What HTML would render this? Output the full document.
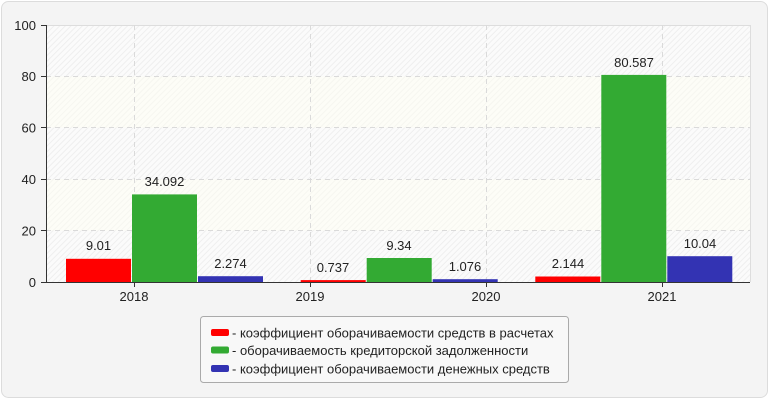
<!DOCTYPE html>
<html><head><meta charset="utf-8"><style>
html,body{margin:0;padding:0;background:#fff;}
svg{display:block;font-family:"Liberation Sans",Arial,sans-serif;}
</style></head><body>
<svg width="770" height="400" viewBox="0 0 770 400" xmlns="http://www.w3.org/2000/svg">
<defs>
<pattern id="hw" patternUnits="userSpaceOnUse" width="4" height="4" patternTransform="rotate(45)">
<rect width="4" height="4" fill="#fbfbfb"/>
<rect width="1" height="4" fill="#efefef"/>
</pattern>
<pattern id="hy" patternUnits="userSpaceOnUse" width="4" height="4" patternTransform="rotate(45)">
<rect width="4" height="4" fill="#fdfdf7"/>
<rect width="1" height="4" fill="#f6f6f0"/>
</pattern>
</defs>
<rect x="1.5" y="1.5" width="766" height="396" rx="7" fill="#f4f4f4" stroke="#dcdcdc"/>
<rect x="46" y="25" width="704" height="51.4" fill="url(#hw)"/>
<rect x="46" y="76.4" width="704" height="51.4" fill="url(#hy)"/>
<rect x="46" y="127.8" width="704" height="51.4" fill="url(#hw)"/>
<rect x="46" y="179.2" width="704" height="51.4" fill="url(#hy)"/>
<rect x="46" y="230.6" width="704" height="51.4" fill="url(#hw)"/>
<path d="M46 25.5H750.5V282" fill="none" stroke="#dddddd"/>
<g stroke="#dadada" stroke-dasharray="5,4" fill="none">
<path d="M46 76.5H750M46 127.5H750M46 179.5H750M46 230.5H750"/>
<path d="M134.5 25V282M310.5 25V282M486.5 25V282M662.5 25V282"/>
</g>
<g>
<rect x="66" y="258.8" width="65" height="23.2" fill="#ff0000"/>
<rect x="132" y="194.4" width="65" height="87.6" fill="#33aa33"/>
<rect x="198" y="276.2" width="65" height="5.8" fill="#3333b3"/>
<rect x="300.7" y="280.1" width="65" height="1.9" fill="#ff0000"/>
<rect x="366.7" y="258" width="65" height="24" fill="#33aa33"/>
<rect x="432.7" y="279.2" width="65" height="2.8" fill="#3333b3"/>
<rect x="535.3" y="276.5" width="65" height="5.5" fill="#ff0000"/>
<rect x="601.3" y="74.9" width="65" height="207.1" fill="#33aa33"/>
<rect x="667.3" y="256.2" width="65" height="25.8" fill="#3333b3"/>
</g>
<g font-size="13" fill="#222" text-anchor="middle">
<text x="98.5" y="250">9.01</text>
<text x="164.5" y="186">34.092</text>
<text x="230.5" y="268">2.274</text>
<text x="333" y="272">0.737</text>
<text x="399" y="250">9.34</text>
<text x="465" y="271">1.076</text>
<text x="568" y="268">2.144</text>
<text x="634" y="67">80.587</text>
<text x="700" y="248">10.04</text>
</g>
<path d="M46.5 25V282.5H750" fill="none" stroke="#333"/>
<g stroke="#333">
<path d="M41 25.5H46M41 76.5H46M41 127.5H46M41 179.5H46M41 230.5H46M41 282.5H46"/>
<path d="M134.5 282V287M310.5 282V287M486.5 282V287M662.5 282V287"/>
</g>
<g font-size="13" fill="#222" text-anchor="end">
<text x="36" y="30">100</text>
<text x="36" y="81">80</text>
<text x="36" y="132.5">60</text>
<text x="36" y="184">40</text>
<text x="36" y="235.5">20</text>
<text x="36" y="287">0</text>
</g>
<g font-size="13" fill="#222" text-anchor="middle">
<text x="134" y="301">2018</text>
<text x="310" y="301">2019</text>
<text x="486" y="301">2020</text>
<text x="662" y="301">2021</text>
</g>
<rect x="200.5" y="316.5" width="368" height="66" rx="3" fill="#f8f8f8" stroke="#aaaaaa"/>
<rect x="211" y="329" width="18" height="7" rx="2" fill="#ff0000"/>
<rect x="211" y="346.5" width="18" height="7" rx="2" fill="#33aa33"/>
<rect x="211" y="365" width="18" height="7" rx="2" fill="#3333b3"/>
<g font-size="13" fill="#222">
<text x="232" y="337.5">- коэффициент оборачиваемости средств в расчетах</text>
<text x="232" y="355">- оборачиваемость кредиторской задолженности</text>
<text x="232" y="373.5">- коэффициент оборачиваемости денежных средств</text>
</g>
</svg>
</body></html>
